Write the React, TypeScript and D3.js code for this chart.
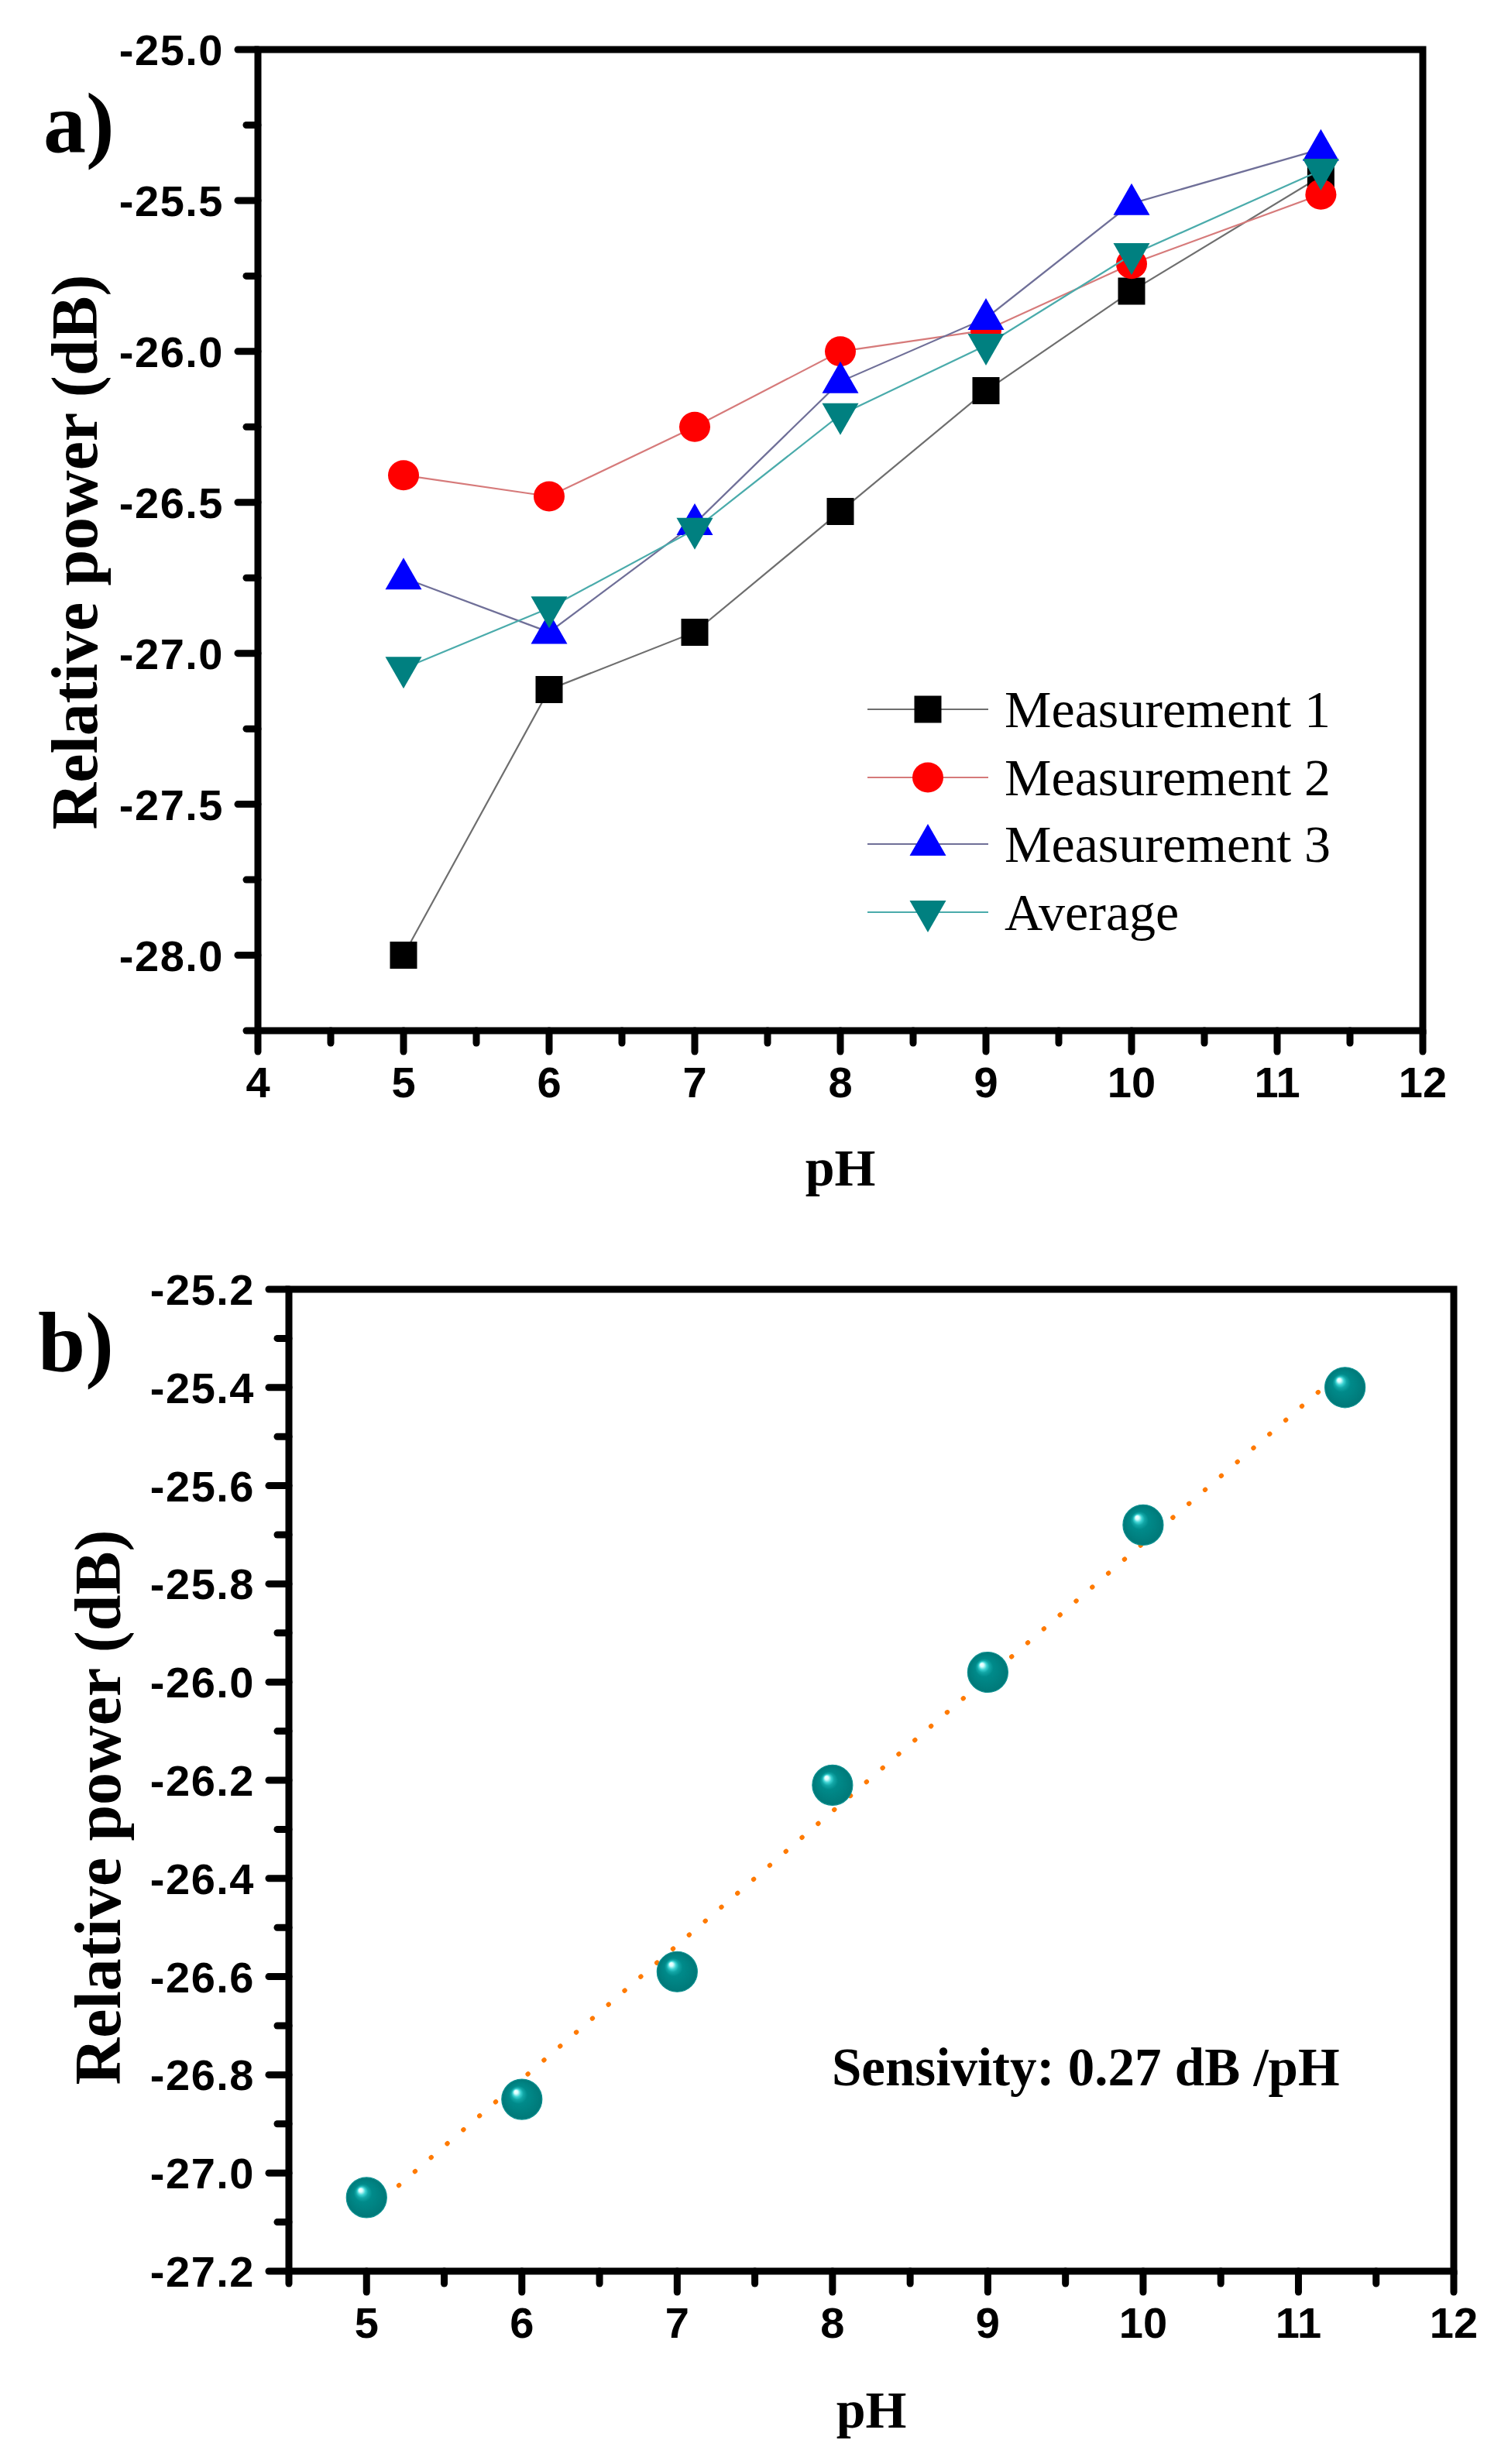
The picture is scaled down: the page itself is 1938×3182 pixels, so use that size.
import React, { useEffect, useRef } from 'react';
import * as d3 from 'd3';

// pH values shared by both panels
const phValues = [5, 6, 7, 8, 9, 10, 11.3];

// panel a series (relative power, dB)
const measurement1 = [-28.0, -27.12, -26.93, -26.53, -26.13, -25.8, -25.42];
const measurement2 = [-26.41, -26.48, -26.25, -26.0, -25.93, -25.71, -25.48];
const measurement3 = [-26.75, -26.93, -26.57, -26.1, -25.89, -25.51, -25.33];
const average = [-27.05, -26.85, -26.59, -26.21, -25.98, -25.68, -25.4];

const seriesNames = ['Measurement 1', 'Measurement 2', 'Measurement 3', 'Average'];

// tick labels
const xTicksA = [4, 5, 6, 7, 8, 9, 10, 11, 12];
const yTicksA = [-25.0, -25.5, -26.0, -26.5, -27.0, -27.5, -28.0];
const xTicksB = [5, 6, 7, 8, 9, 10, 11, 12];
const yTicksB = [-25.2, -25.4, -25.6, -25.8, -26.0, -26.2, -26.4, -26.6, -26.8, -27.0, -27.2];

const sensitivityText = 'Sensivity: 0.27 dB /pH';

const App: React.FC = () => {
  const svgRef = useRef<SVGSVGElement | null>(null);

  useEffect(() => {
    if (!svgRef.current) return;
    const svg = d3.select(svgRef.current);
    svg.selectAll('*').remove();

    const sans = "'Liberation Sans', Arial, sans-serif";
    const serif = "'Liberation Serif', 'Times New Roman', serif";
    const tickFs = 56;
    const axisW = 9;

    // sphere gradient for panel b
    const defs = svg.append('defs');
    const grad = defs.append('radialGradient')
      .attr('id', 'sphere')
      .attr('cx', '50%').attr('cy', '50%').attr('r', '50%')
      .attr('fx', '34%').attr('fy', '30%');
    [
      ['0%', '#ffffff'], ['9%', '#d8ffff'], ['20%', '#3cd2d2'], ['30%', '#12a6a6'],
      ['45%', '#008a8a'], ['100%', '#007878'],
    ].forEach(([o, c]) => grad.append('stop').attr('offset', o).attr('stop-color', c));

    // draws frame, ticks and tick labels for a panel
    const drawFrame = (
      x: d3.ScaleLinear<number, number>,
      y: d3.ScaleLinear<number, number>,
      xTicks: number[], yTicks: number[],
      xMinor: number[], yMinor: number[],
      yFmt: (v: number) => string
    ) => {
      const [x0, x1] = x.range();
      const [y0, y1] = y.range(); // y0 bottom, y1 top
      const g = svg.append('g');

      g.selectAll('.ymaj').data(yTicks).join('line')
        .attr('x1', x0).attr('x2', x0 - 26)
        .attr('y1', d => y(d)).attr('y2', d => y(d))
        .attr('stroke', '#000').attr('stroke-width', axisW).attr('stroke-linecap', 'round');
      g.selectAll('.ymin').data(yMinor).join('line')
        .attr('x1', x0).attr('x2', x0 - 15)
        .attr('y1', d => y(d)).attr('y2', d => y(d))
        .attr('stroke', '#000').attr('stroke-width', axisW).attr('stroke-linecap', 'round');
      g.selectAll('.xmaj').data(xTicks).join('line')
        .attr('x1', d => x(d)).attr('x2', d => x(d))
        .attr('y1', y0).attr('y2', y0 + 27)
        .attr('stroke', '#000').attr('stroke-width', axisW).attr('stroke-linecap', 'round');
      g.selectAll('.xmin').data(xMinor).join('line')
        .attr('x1', d => x(d)).attr('x2', d => x(d))
        .attr('y1', y0).attr('y2', y0 + 16)
        .attr('stroke', '#000').attr('stroke-width', axisW).attr('stroke-linecap', 'round');

      g.append('rect')
        .attr('x', x0).attr('y', y1)
        .attr('width', x1 - x0).attr('height', y0 - y1)
        .attr('fill', 'none').attr('stroke', '#000').attr('stroke-width', axisW);

      g.selectAll('.ylab').data(yTicks).join('text')
        .attr('x', x0 - 44).attr('y', d => y(d) + 20)
        .attr('text-anchor', 'end')
        .attr('font-family', sans).attr('font-weight', 'bold').attr('font-size', tickFs)
        .attr('letter-spacing', 1.5)
        .text(d => yFmt(d));
      g.selectAll('.xlab').data(xTicks).join('text')
        .attr('x', d => x(d)).attr('y', y0 + 86)
        .attr('text-anchor', 'middle')
        .attr('font-family', sans).attr('font-weight', 'bold').attr('font-size', tickFs)
        .text(d => String(d));
    };

    const yTitle = (x: number, cy: number) => {
      svg.append('text')
        .attr('transform', `translate(${x},${cy}) rotate(-90)`)
        .attr('text-anchor', 'middle')
        .attr('font-family', serif).attr('font-weight', 'bold').attr('font-size', 84)
        .text('Relative power (dB)');
    };
    const xTitle = (cx: number, y: number) => {
      svg.append('text')
        .attr('x', cx).attr('y', y)
        .attr('text-anchor', 'middle')
        .attr('font-family', serif).attr('font-weight', 'bold').attr('font-size', 68)
        .text('pH');
    };
    const panelLabel = (x: number, y: number, t: string) => {
      svg.append('text')
        .attr('x', x).attr('y', y)
        .attr('font-family', serif).attr('font-weight', 'bold').attr('font-size', 110)
        .text(t);
    };

    // ---------- Panel a ----------
    const xA = d3.scaleLinear().domain([4, 12]).range([333, 1837]);
    const yA = d3.scaleLinear().domain([-28.25, -25]).range([1331, 64]);

    const symbolPath = (kind: number, cx: number, cy: number) => {
      if (kind === 0) { // square
        const s = 17.5;
        return `M${cx - s},${cy - s}H${cx + s}V${cy + s}H${cx - s}Z`;
      }
      if (kind === 2) { // up triangle
        return `M${cx},${cy - 26}L${cx + 23.5},${cy + 15}L${cx - 23.5},${cy + 15}Z`;
      }
      // down triangle
      return `M${cx},${cy + 26}L${cx + 23.5},${cy - 15}L${cx - 23.5},${cy - 15}Z`;
    };

    const seriesA = [measurement1, measurement2, measurement3, average];
    const markerColors = ['#000000', '#ff0000', '#0000ff', '#008080'];
    const lineColors = ['#6e6e6e', '#d67a7a', '#6f6f98', '#4aabab'];

    drawFrame(
      xA, yA, xTicksA, yTicksA,
      d3.range(4.5, 12, 1),
      d3.range(-25.25, -28.3, -0.5),
      v => v.toFixed(1)
    );

    const lineA = d3.line<[number, number]>().x(d => xA(d[0])).y(d => yA(d[1]));
    const gA = svg.append('g');
    seriesA.forEach((vals, i) => {
      const pts: [number, number][] = phValues.map((p, j) => [p, vals[j]]);
      gA.append('path')
        .attr('d', lineA(pts) || '')
        .attr('fill', 'none').attr('stroke', lineColors[i]).attr('stroke-width', 2.2);
      pts.forEach(([p, v]) => {
        if (i === 1) {
          gA.append('ellipse')
            .attr('cx', xA(p)).attr('cy', yA(v)).attr('rx', 20).attr('ry', 19.5)
            .attr('fill', markerColors[i]);
        } else {
          gA.append('path').attr('d', symbolPath(i, xA(p), yA(v))).attr('fill', markerColors[i]);
        }
      });
    });

    // legend
    const legendRows = [916, 1004, 1090, 1178];
    const leg = svg.append('g');
    seriesNames.forEach((name, i) => {
      const cy = legendRows[i];
      leg.append('line')
        .attr('x1', 1120).attr('x2', 1276).attr('y1', cy).attr('y2', cy)
        .attr('stroke', lineColors[i]).attr('stroke-width', 2.2);
      if (i === 1) {
        leg.append('ellipse').attr('cx', 1198).attr('cy', cy).attr('rx', 20).attr('ry', 19.5)
          .attr('fill', markerColors[i]);
      } else {
        leg.append('path').attr('d', symbolPath(i, 1198, cy)).attr('fill', markerColors[i]);
      }
      leg.append('text')
        .attr('x', 1297).attr('y', cy + 23)
        .attr('font-family', serif).attr('font-size', 68)
        .text(name);
    });

    yTitle(125, 713);
    xTitle(1085, 1531);
    panelLabel(56, 196, 'a)');

    // ---------- Panel b ----------
    const xB = d3.scaleLinear().domain([4.5, 12]).range([373, 1877]);
    const yB = d3.scaleLinear().domain([-27.2, -25.2]).range([2933, 1665]);

    drawFrame(
      xB, yB, xTicksB, yTicksB,
      d3.range(4.5, 12, 1),
      d3.range(-25.3, -27.15, -0.2),
      v => v.toFixed(1)
    );

    // linear least-squares fit of the averages
    const mx = d3.mean(phValues) as number;
    const my = d3.mean(average) as number;
    const sxy = d3.sum(phValues, (p, j) => (p - mx) * (average[j] - my));
    const sxx = d3.sum(phValues, p => (p - mx) * (p - mx));
    const slope = sxy / sxx;
    const fit = (p: number) => my + slope * (p - mx);
    const [pMin, pMax] = d3.extent(phValues) as [number, number];

    svg.append('line')
      .attr('x1', xB(pMin)).attr('y1', yB(fit(pMin)))
      .attr('x2', xB(pMax)).attr('y2', yB(fit(pMax)))
      .attr('stroke', '#ff7a00').attr('stroke-width', 6)
      .attr('stroke-linecap', 'round')
      .attr('stroke-dasharray', '0.5 27');

    const gB = svg.append('g');
    phValues.forEach((p, j) => {
      gB.append('circle')
        .attr('cx', xB(p)).attr('cy', yB(average[j])).attr('r', 26)
        .attr('fill', 'url(#sphere)')
        .attr('stroke', '#0a9090').attr('stroke-width', 1.2);
    });

    svg.append('text')
      .attr('x', 1074).attr('y', 2693)
      .attr('font-family', serif).attr('font-weight', 'bold').attr('font-size', 69)
      .text(sensitivityText);

    yTitle(155, 2334);
    xTitle(1125, 3135);
    panelLabel(49, 1771, 'b)');
  }, []);

  return (
    <svg
      ref={svgRef}
      width={1938}
      height={3182}
      style={{ position: 'absolute', left: 0, top: 0, background: '#fff' }}
    />
  );
};

export default App;
